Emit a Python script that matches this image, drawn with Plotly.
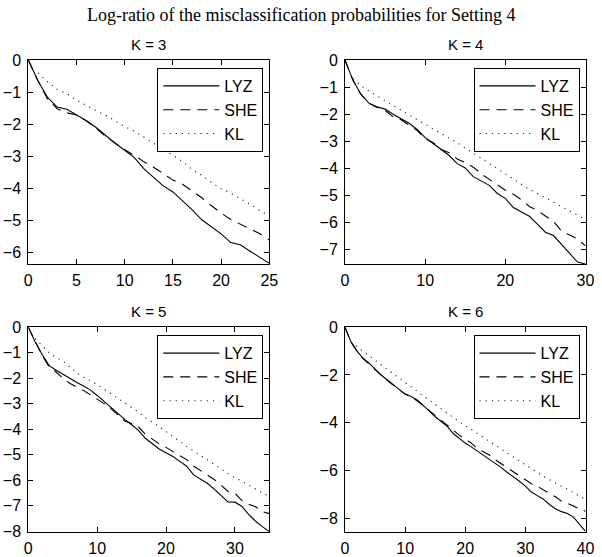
import plotly.graph_objects as go

# ---------------- data ----------------
series_names = ["LYZ", "SHE", "KL"]
panel_titles = ["K = 3", "K = 4", "K = 5", "K = 6"]

x_k3 = list(range(0, 26))
lyz_k3 = [0, -0.65, -1.17, -1.47, -1.54, -1.71, -1.89, -2.10, -2.36, -2.60, -2.82, -3.05, -3.40,
          -3.67, -3.93, -4.12, -4.39, -4.68, -4.99, -5.22, -5.43, -5.70, -5.77, -5.97, -6.16, -6.35]
she_k3 = [0, -0.65, -1.22, -1.52, -1.65, -1.72, -1.90, -2.12, -2.38, -2.60, -2.80, -2.98, -3.18,
          -3.35, -3.56, -3.75, -3.88, -4.08, -4.30, -4.55, -4.78, -4.98, -5.12, -5.27, -5.42, -5.62]
xkl_k3 = list(range(1, 26))
kl_k3 = [-0.40, -0.68, -0.92, -1.05, -1.25, -1.42, -1.58, -1.72, -1.90, -2.08, -2.22, -2.42,
         -2.60, -2.78, -2.98, -3.17, -3.42, -3.60, -3.82, -4.02, -4.16, -4.32, -4.50, -4.70, -4.87]

x_k4 = list(range(0, 31))
lyz_k4 = [0, -0.75, -1.27, -1.60, -1.72, -1.81, -2.00, -2.16, -2.33, -2.56, -2.86, -3.08, -3.30,
          -3.52, -3.82, -3.98, -4.30, -4.45, -4.62, -4.92, -5.10, -5.44, -5.60, -5.76, -6.05,
          -6.35, -6.47, -6.78, -7.12, -7.45, -7.52]
she_k4 = [0, -0.75, -1.27, -1.60, -1.75, -1.85, -2.10, -2.20, -2.40, -2.60, -2.90, -3.05, -3.30,
          -3.42, -3.65, -3.78, -3.95, -4.20, -4.40, -4.60, -4.80, -4.95, -5.15, -5.40, -5.55,
          -5.75, -5.95, -6.30, -6.45, -6.60, -6.85]
xkl_k4 = list(range(1, 31))
kl_k4 = [-0.70, -0.95, -1.15, -1.33, -1.50, -1.66, -1.84, -2.02, -2.20, -2.37, -2.55, -2.72,
         -2.88, -3.05, -3.24, -3.44, -3.64, -3.82, -4.02, -4.21, -4.40, -4.58, -4.77, -4.92,
         -5.08, -5.24, -5.40, -5.56, -5.73, -5.88]

x_k5 = list(range(0, 36))
lyz_k5 = [0, -0.58, -1.06, -1.50, -1.68, -1.85, -2.02, -2.16, -2.31, -2.46, -2.68, -2.92, -3.15,
          -3.38, -3.62, -3.83, -4.05, -4.36, -4.58, -4.78, -4.93, -5.08, -5.27, -5.46, -5.80,
          -5.96, -6.13, -6.36, -6.60, -6.86, -6.87, -7.03, -7.35, -7.62, -7.83, -8.03]
she_k5 = [0, -0.58, -1.10, -1.55, -1.75, -2.00, -2.20, -2.35, -2.48, -2.65, -2.82, -3.00, -3.20,
          -3.45, -3.68, -3.78, -3.92, -4.20, -4.40, -4.58, -4.72, -4.87, -5.05, -5.20, -5.45,
          -5.62, -5.78, -5.98, -6.20, -6.45, -6.52, -6.80, -6.95, -7.05, -7.24, -7.32]
xkl_k5 = list(range(1, 36))
kl_k5 = [-0.45, -0.72, -1.00, -1.18, -1.32, -1.55, -1.78, -1.96, -2.10, -2.25, -2.43, -2.61,
         -2.78, -2.94, -3.14, -3.33, -3.55, -3.72, -3.90, -4.10, -4.28, -4.48, -4.68, -4.86,
         -5.04, -5.21, -5.38, -5.55, -5.74, -5.90, -6.05, -6.20, -6.36, -6.50, -6.65]

x_k6 = list(range(0, 41))
lyz_k6 = [0, -0.62, -1.00, -1.30, -1.50, -1.75, -2.00, -2.20, -2.42, -2.60, -2.80, -2.90, -3.05,
          -3.26, -3.50, -3.75, -3.97, -4.15, -4.45, -4.65, -4.85, -5.01, -5.18, -5.35, -5.52,
          -5.70, -5.88, -6.08, -6.25, -6.45, -6.65, -6.90, -7.05, -7.20, -7.42, -7.60, -7.72,
          -7.80, -7.95, -8.25, -8.55]
she_k6 = [0, -0.62, -1.00, -1.30, -1.55, -1.78, -2.02, -2.22, -2.42, -2.62, -2.80, -2.92, -3.08,
          -3.28, -3.50, -3.70, -3.90, -4.10, -4.33, -4.52, -4.68, -4.85, -5.08, -5.20, -5.35,
          -5.55, -5.72, -5.86, -6.05, -6.22, -6.40, -6.55, -6.66, -6.80, -6.93, -7.10, -7.28,
          -7.38, -7.48, -7.62, -7.70]
xkl_k6 = list(range(1, 41))
kl_k6 = [-0.62, -0.82, -1.00, -1.18, -1.38, -1.57, -1.75, -1.93, -2.12, -2.30, -2.50, -2.68,
         -2.87, -3.05, -3.24, -3.42, -3.60, -3.80, -3.96, -4.12, -4.28, -4.45, -4.62, -4.78,
         -4.95, -5.10, -5.27, -5.43, -5.60, -5.76, -5.93, -6.10, -6.24, -6.38, -6.53, -6.66,
         -6.78, -6.92, -7.08, -7.22]

x_ranges = [[0, 25], [0, 30], [0, 35], [0, 40]]
y_ranges = [[-6.37, 0], [-7.52, 0], [-8.03, 0], [-8.56, 0]]
x_dticks = [5, 10, 10, 10]
y_dticks = [1, 1, 1, 2]

panels = [
    (x_k3, lyz_k3, she_k3, xkl_k3, kl_k3),
    (x_k4, lyz_k4, she_k4, xkl_k4, kl_k4),
    (x_k5, lyz_k5, she_k5, xkl_k5, kl_k5),
    (x_k6, lyz_k6, she_k6, xkl_k6, kl_k6),
]

# ---------------- layout geometry ----------------
W, H = 602, 557
x_doms = [[28.3 / W, 269.3 / W], [345.0 / W, 585.5 / W]]
y_doms = [[(H - 264.0) / H, (H - 60.0) / H], [(H - 531.7) / H, (H - 327.2) / H]]

sans = "Liberation Sans, Arial, sans-serif"
tick_font = dict(family=sans, size=16, color="black")
line_styles = [
    dict(color="black", width=1.1, dash="solid"),
    dict(color="black", width=1.1, dash="10px,7px"),
    dict(color="#222222", width=1.1, dash="1.2px,5px"),
]

fig = go.Figure()
layout = dict(
    width=W, height=H,
    margin=dict(l=0, r=0, t=0, b=0, autoexpand=False),
    paper_bgcolor="white", plot_bgcolor="white",
    showlegend=True,
)
annotations = []

for i, (xs, lyz, she, xkl, kl) in enumerate(panels):
    row, col = divmod(i, 2)
    n = "" if i == 0 else str(i + 1)
    xa, ya = "x" + n, "y" + n
    lg = "legend" + n
    for name, xv, yv, st in zip(series_names, [xs, xs, xkl], [lyz, she, kl], line_styles):
        fig.add_trace(go.Scatter(x=xv, y=yv, mode="lines", name=name, line=st,
                                 xaxis=xa, yaxis=ya, legend=lg, showlegend=True))
    common = dict(ticks="inside", ticklen=5, tickwidth=1, tickcolor="black",
                  showline=True, linecolor="black", linewidth=1, mirror="ticks",
                  showgrid=False, zeroline=False, tickfont=tick_font, tick0=0,
                  automargin=False)
    layout["xaxis" + n] = dict(domain=x_doms[col], range=x_ranges[i], dtick=x_dticks[i],
                               anchor=ya, ticklabelstandoff=2, **common)
    layout["yaxis" + n] = dict(domain=y_doms[row], range=y_ranges[i], dtick=y_dticks[i],
                               anchor=xa, ticklabelstandoff=3, **common)
    right_px = x_doms[col][1] * W - 6
    top_px = H - y_doms[row][1] * H + 8
    layout[lg] = dict(x=right_px / W, y=(H - top_px) / H, xanchor="right", yanchor="top",
                      bordercolor="black", borderwidth=1, bgcolor="white",
                      font=dict(family=sans, size=16, color="black"),
                      itemwidth=56, tracegroupgap=0)
    cx = (x_doms[col][0] + x_doms[col][1]) / 2
    annotations.append(dict(text=panel_titles[i], x=cx, y=y_doms[row][1], xref="paper", yref="paper",
                            xanchor="center", yanchor="bottom", yshift=5, showarrow=False,
                            font=dict(family=sans, size=15, color="black")))

annotations.append(dict(text="Log-ratio of the misclassification probabilities for Setting 4",
                        x=0.5, y=1 - 15.0 / H, xref="paper", yref="paper", xanchor="center",
                        yanchor="middle", showarrow=False,
                        font=dict(family="Liberation Serif, DejaVu Serif, serif", size=18, color="black")))
layout["annotations"] = annotations
fig.update_layout(**layout)
fig.write_html("out.html", config={"displayModeBar": False},
               post_script="document.body.style.margin='0';document.body.style.overflow='hidden';")
